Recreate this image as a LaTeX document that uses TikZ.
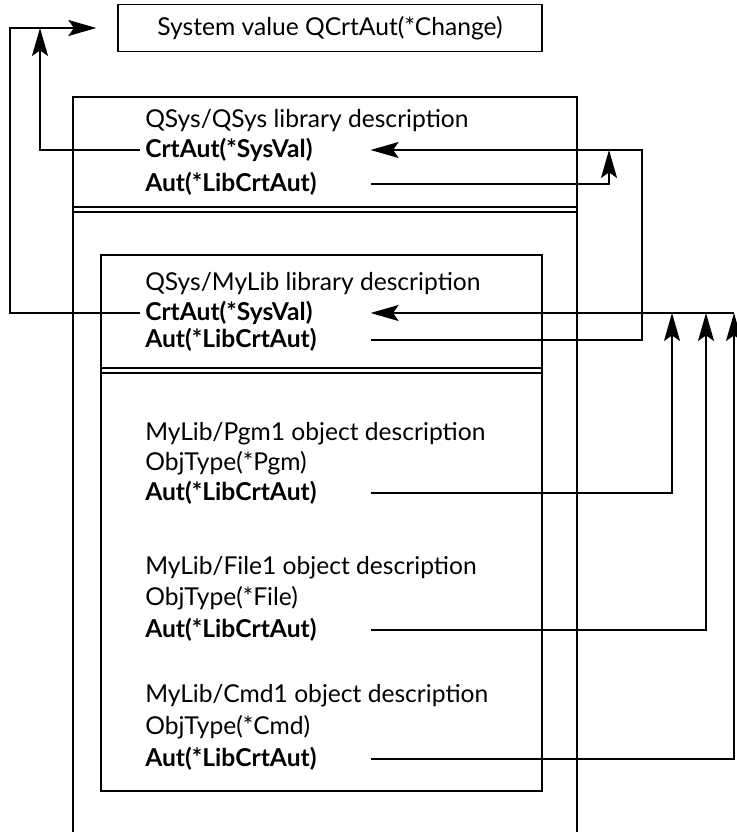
\documentclass[tikz,border=0pt]{standalone}
\usepackage{fontspec}
\setmainfont{Lato}
\usetikzlibrary{arrows.meta,positioning,calc}
\tikzset{
  box/.style={draw, line width=0.9pt},
  txt/.style={anchor=west, inner xsep=0.125cm, inner ysep=0pt, font=\fontsize{17.5}{20}\selectfont},
  row/.style={txt, text width=5.5cm, align=left},
  rowb/.style={row, font=\fontsize{17.5}{20}\selectfont\bfseries},
  link/.style={line width=0.9pt, -{Stealth[length=7mm,width=4mm,inset=1.4mm]}},
}

\begin{document}
\begin{tikzpicture}[x=0.025cm, y=-0.025cm]
  \useasboundingbox (0,0) rectangle (736,832);
  \node[box, minimum width=10.6cm, minimum height=1.175cm, font=\fontsize{17.5}{20}\selectfont] (sysval) at (330,28) {System value QCrtAut(*Change)};

  \draw[box] (73,832) -- (73,97) -- (577,97) -- (577,832);
  \node[txt] (qhead) at (140,121) {QSys/QSys library description};
  \node[rowb] (qcrt) at (140,150) {CrtAut(*SysVal)};
  \node[rowb] (qaut) at (140,184) {Aut(*LibCrtAut)};
  \draw[line width=0.9pt] (73,207) -- (577,207) (73,212) -- (577,212);

  \draw[box] (101,255) rectangle (542,791);
  \node[txt] (mhead) at (140,284) {QSys/MyLib library description};
  \node[rowb] (mcrt) at (140,313) {CrtAut(*SysVal)};
  \node[rowb] (maut) at (140,340) {Aut(*LibCrtAut)};
  \draw[line width=0.9pt] (101,368) -- (542,368) (101,373) -- (542,373);

  \node[txt] (phead) at (140,434) {MyLib/Pgm1 object description};
  \node[txt] (ptype) at (140,463) {ObjType(*Pgm)};
  \node[rowb] (paut) at (140,493) {Aut(*LibCrtAut)};
  \node[txt] (fhead) at (140,568) {MyLib/File1 object description};
  \node[txt] (ftype) at (140,598) {ObjType(*File)};
  \node[rowb] (faut) at (140,630) {Aut(*LibCrtAut)};
  \node[txt] (chead) at (140,696) {MyLib/Cmd1 object description};
  \node[txt] (ctype) at (140,727) {ObjType(*Cmd)};
  \node[rowb] (caut) at (140,759) {Aut(*LibCrtAut)};

  \coordinate (outerleft) at (10,28);
  \coordinate (innerleft) at (40,28);
  \coordinate (colA) at (609,0);
  \coordinate (colB) at (642,0);
  \coordinate (colC) at (672,0);
  \coordinate (colD) at (706,0);
  \coordinate (colE) at (734,0);

  \draw[link, shorten >=0.525cm] (mcrt.west) -| (outerleft) -- (sysval.west);
  \draw[link] (qcrt.west) -| (innerleft);
  \draw[link] (qaut.east) -| (colA |- qcrt.east);
  \draw[link] (maut.east) -| (colB |- qcrt.east) -- (qcrt.east);
  \draw[link] (colE |- mcrt.east) -- (mcrt.east);
  \draw[link] (paut.east) -| (colC |- mcrt.east);
  \draw[link] (faut.east) -| (colD |- mcrt.east);
  \draw[link] (caut.east) -| (colE |- mcrt.east);
\end{tikzpicture}
\end{document}
